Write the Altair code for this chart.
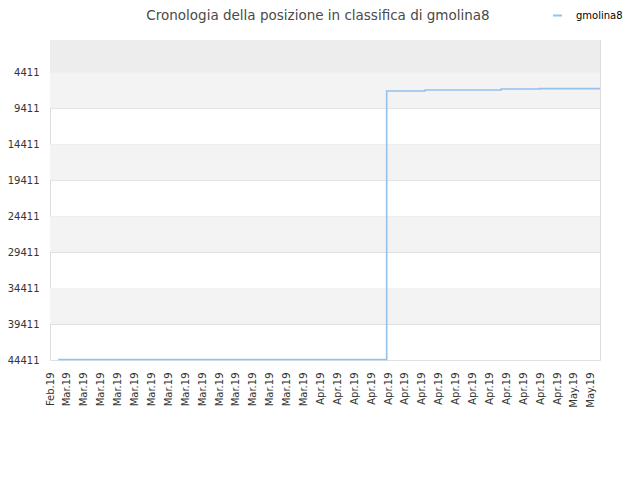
import altair as alt
import pandas as pd

# x tick labels (one per tick index)
tick_labels = ["Feb.19"] + ["Mar.19"] * 15 + ["Apr.19"] * 15 + ["May.19"] * 2
# series (x in tick-index units, y = ranking position)
series_x = [0.49, 19.92, 22.19, 26.69, 28.95, 32.54]
series_y = [44350, 7008, 6870, 6730, 6690, 6690]
series_name = "gmolina8"
y_ticks = [4411, 9411, 14411, 19411, 24411, 29411, 34411, 39411, 44411]
y_min, y_max = -75, 44411
x_max = 32.54

line_df = pd.DataFrame({"x": series_x, "y": series_y, "s": [series_name] * len(series_x)})
band_df = pd.DataFrame({
    "y0": [y_min, 4411, 14411, 24411, 34411],
    "y1": [4411, 9411, 19411, 29411, 39411],
    "c": ["#ededed", "#f3f3f3", "#f3f3f3", "#f3f3f3", "#f3f3f3"],
    "x0": [0] * 5,
    "x1": [x_max] * 5,
})

label_expr = "[" + ",".join("'" + t + "'" for t in tick_labels) + "][datum.value]"

xscale = alt.Scale(domain=[0, x_max], nice=False, zero=False)
yscale = alt.Scale(domain=[y_min, y_max], reverse=True, nice=False, zero=False)

xaxis = alt.Axis(values=list(range(len(tick_labels))), labelExpr=label_expr,
                 labelAngle=-90, labelAlign="right", labelBaseline="middle",
                 ticks=False, domain=False, grid=False, labelPadding=12,
                 labelFont="DejaVu Sans", labelFontSize=10, labelColor="#333333",
                 labelOverlap=False, labelBound=False, labelFlush=False)
yaxis = alt.Axis(values=y_ticks, ticks=False, domain=False, grid=True,
                 gridColor="#e0e0e0", labelPadding=11, labelFont="DejaVu Sans",
                 labelFontSize=10, labelColor="#333333", format="d",
                 labelOverlap=False, labelBound=False)

bands = alt.Chart(band_df).mark_rect().encode(
    x=alt.X("x0:Q", scale=xscale, title=None, axis=xaxis),
    x2="x1:Q",
    y=alt.Y("y0:Q", scale=yscale, title=None, axis=yaxis),
    y2="y1:Q",
    color=alt.Color("c:N", scale=None),
)

line = alt.Chart(line_df).mark_line(interpolate="step-after", strokeWidth=1.6).encode(
    x=alt.X("x:Q", scale=xscale, title=None, axis=xaxis),
    y=alt.Y("y:Q", scale=yscale, title=None, axis=yaxis),
    color=alt.Color("s:N", scale=alt.Scale(range=["#94c1f0"]),
                    legend=alt.Legend(title=None, orient="none", legendX=502, legendY=-30,
                                      symbolType="stroke", symbolSize=80, symbolStrokeWidth=2,
                                      labelOffset=13,
                                      labelFont="DejaVu Sans", labelFontSize=10,
                                      labelColor="#000000")),
)

chart = alt.layer(bands, line).properties(
    width=550, height=320,
    title=alt.Title("Cronologia della posizione in classifica di gmolina8",
                    font="DejaVu Sans", fontSize=13.5, fontWeight="normal",
                    color="#4a4a4a", anchor="middle", dx=-7, offset=0, dy=12),
    autosize=alt.AutoSizeParams(type="none"),
    padding={"left": 42, "top": 32, "right": 32, "bottom": 112},
).configure_view(stroke="#dddddd", strokeWidth=1)

chart.save("out.html", embed_options={"renderer": "svg", "actions": False})
